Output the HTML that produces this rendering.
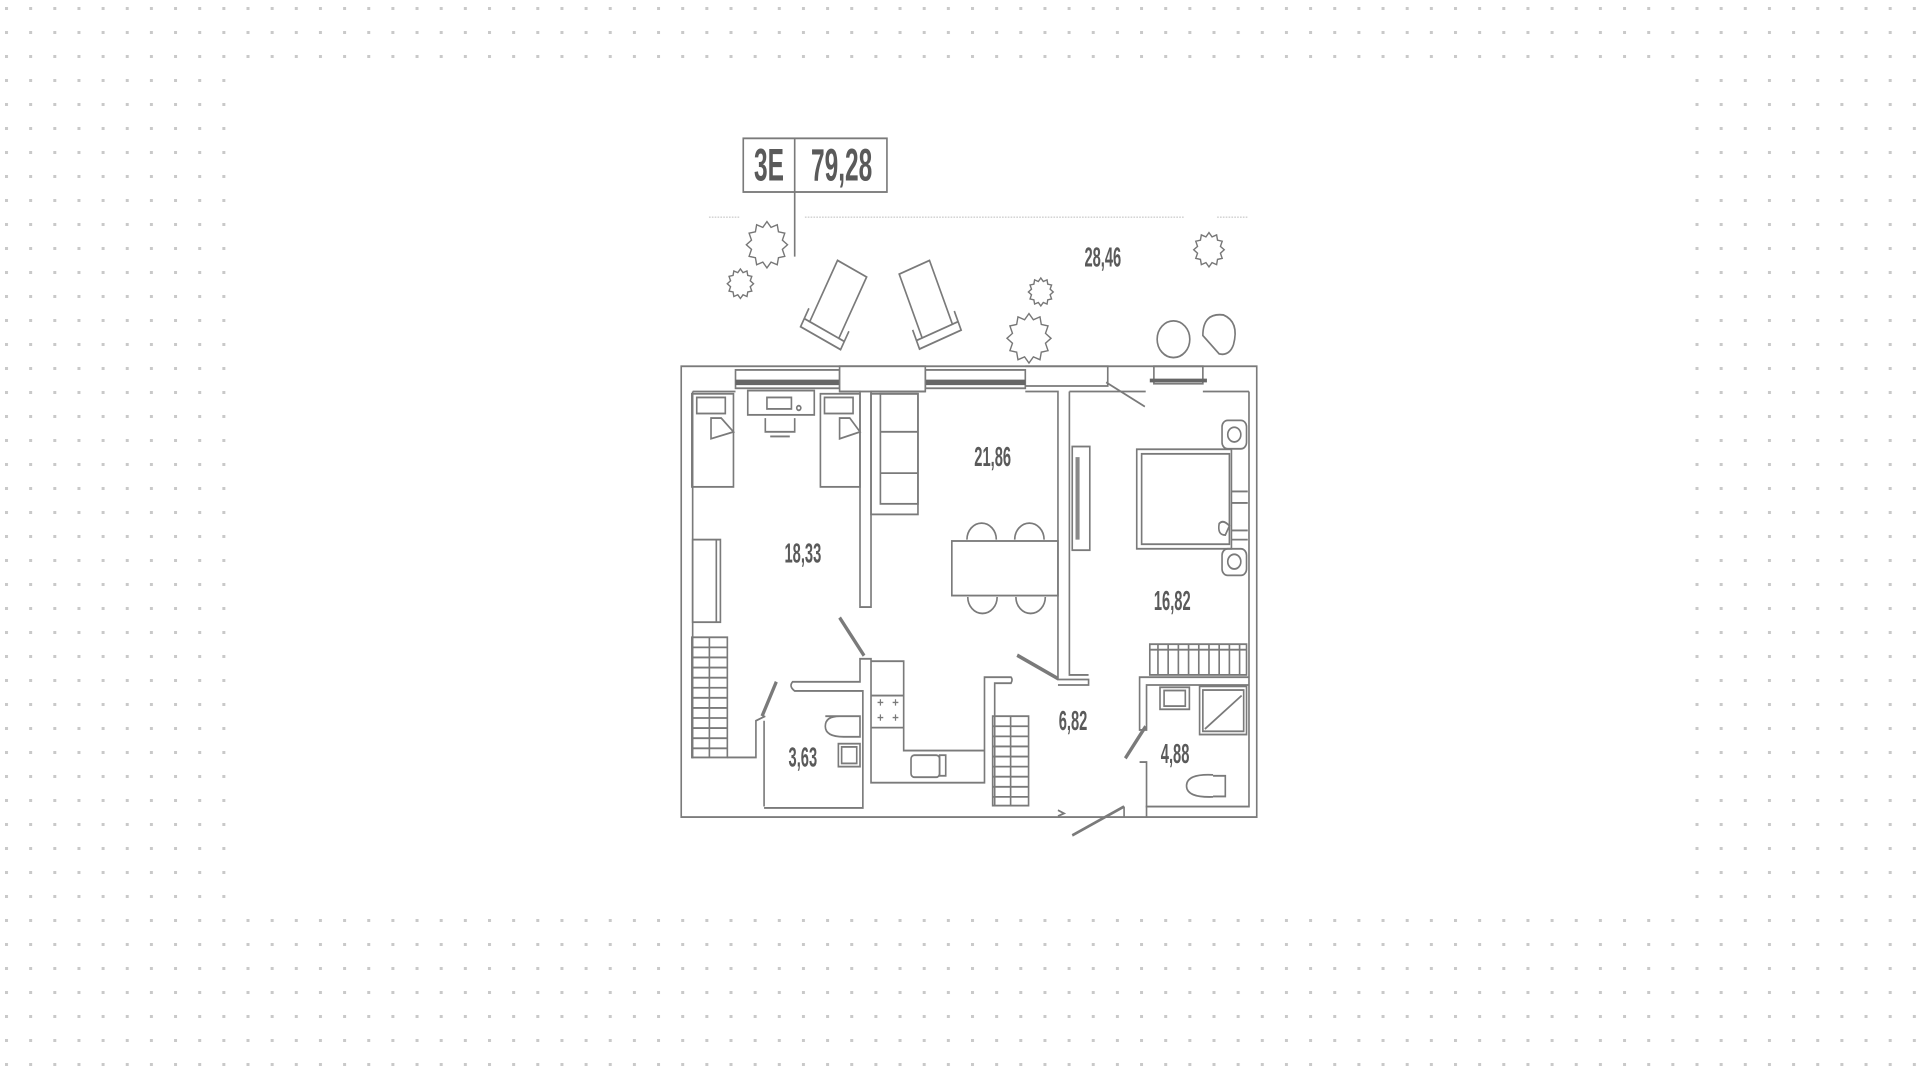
<!DOCTYPE html>
<html><head><meta charset="utf-8">
<style>
html,body{margin:0;padding:0;background:#fff;}
body{width:1920px;height:1078px;position:relative;overflow:hidden;}
svg{position:absolute;}
.t{font-family:"Liberation Sans",sans-serif;font-weight:bold;fill:#5a5a5a;}
</style></head>
<body>
<svg style="left:0;top:0" width="1920" height="1078">
<defs>
<pattern id="d" x="5" y="7" width="24.15" height="24" patternUnits="userSpaceOnUse">
<rect width="3" height="3" fill="#c9c9c9"/>
</pattern>
</defs>
<rect width="1920" height="1078" fill="url(#d)"/>
<rect x="234" y="68" width="1456" height="839" fill="#fff"/>
</svg>

<svg style="left:660px;top:120px" width="640" height="720" viewBox="0 0 1568 1570" preserveAspectRatio="none">
<defs>
<symbol id="st" viewBox="-1.15 -1.15 2.3 2.3">
<polygon vector-effect="non-scaling-stroke" fill="#fff" stroke="#777" stroke-width="1.4" points="1,0 .75,.2 .866,.5 .56,.56 .5,.866 .2,.75 0,1 -.2,.75 -.5,.866 -.56,.56 -.866,.5 -.75,.2 -1,0 -.75,-.2 -.866,-.5 -.56,-.56 -.5,-.866 -.2,-.75 0,-1 .2,-.75 .5,-.866 .56,-.56 .866,-.5 .75,-.2"/>
</symbol>
</defs>
<g fill="none" stroke="#7a7a7a" stroke-width="4">
<rect x="204" y="40" width="352" height="117"/>
<line x1="330" y1="40" x2="330" y2="298"/>
<g stroke="#cfcfcf" stroke-dasharray="4 3" stroke-width="3">
<line x1="120" y1="212" x2="195" y2="212"/><line x1="355" y1="212" x2="1285" y2="212"/><line x1="1365" y1="212" x2="1440" y2="212"/>
</g>
<use href="#st" x="204" y="214" width="116" height="116"/>
<use href="#st" x="160" y="320" width="74" height="74"/>
<use href="#st" x="898" y="340" width="70" height="70"/>
<use href="#st" x="842" y="414" width="124" height="124"/>
<use href="#st" x="1302" y="240" width="86" height="86"/>
<g transform="translate(432,400) rotate(27)">
<rect x="-40" y="-85" width="80" height="150"/><path d="M-55 40 L-55 85 L55 85 L55 40 M-40 65 L-55 65 M40 65 L55 65"/>
</g>
<g transform="translate(655,400) rotate(-22)">
<rect x="-40" y="-85" width="80" height="150"/><path d="M-55 40 L-55 85 L55 85 L55 40 M-40 65 L-55 65 M40 65 L55 65"/>
</g>
<circle cx="1258" cy="478" r="40"/>
<path d="M1330 470 Q1330 420 1380 425 Q1420 440 1405 490 Q1395 515 1370 510 Z"/>
<rect x="52" y="537" width="1410" height="983" fill="#fff"/>
<path d="M80 592 L80 1392 M1443 592 L1443 1497 L1190 1497 M255 1497 L255 1310"/>
<rect x="185" y="545" width="255" height="40"/>
<rect x="650" y="545" width="245" height="40"/>
<line x1="185" y1="572" x2="440" y2="572" stroke="#666" stroke-width="12"/>
<line x1="650" y1="572" x2="895" y2="572" stroke="#666" stroke-width="12"/>
<rect x="440" y="537" width="210" height="55" fill="#fff"/>
<path d="M895 537 L1097 537 L1097 580 L1087 580 M895 580 L1087 580"/>
<rect x="1210" y="537" width="120" height="38"/>
<line x1="1200" y1="568" x2="1340" y2="568" stroke="#666" stroke-width="8"/>
<line x1="1093" y1="572" x2="1188" y2="625"/>
<path d="M80 592 L185 592 M440 592 L490 592 L490 1062 L517 1062 L517 592 L650 592 M895 592 L975 592 L975 1220 L1050 1220 L1050 1232 L975 1232 M1003 592 L1190 592 M1003 592 L1003 1210 L1050 1210 M1330 592 L1443 592"/>
<rect x="78" y="597" width="102" height="203"/><rect x="90" y="605" width="70" height="35"/><path d="M125 650 L150 650 L180 680 L125 695 Z"/>
<rect x="393" y="597" width="97" height="203"/><rect x="403" y="605" width="70" height="35"/><path d="M440 650 L465 650 L490 680 L440 695 Z"/>
<rect x="215" y="590" width="163" height="53"/><rect x="262" y="605" width="60" height="25"/><circle cx="340" cy="628" r="5"/>
<path d="M258 650 L258 680 L330 680 L330 650 M270 690 L318 690"/>
<rect x="80" y="915" width="68" height="180"/><line x1="138" y1="915" x2="138" y2="1095"/>
<rect x="78" y="1128" width="87" height="262"/><line x1="121" y1="1128" x2="121" y2="1390"/>
<path d="M78 1150h87M78 1172h87M78 1194h87M78 1216h87M78 1238h87M78 1260h87M78 1282h87M78 1304h87M78 1326h87M78 1348h87M78 1370h87"/>
<path d="M165 1390 L235 1390 L235 1310 L258 1300"/>
<line x1="285" y1="1225" x2="250" y2="1300" stroke-width="8"/>
<rect x="517" y="597" width="115" height="263"/><rect x="540" y="597" width="92" height="240"/><path d="M540 680h92M540 770h92"/>
<rect x="715" y="918" width="260" height="119"/>
<path d="M752 915 A36 36 0 1 1 824 915 M869 915 A36 36 0 1 1 941 915 M754 1040 A36 36 0 1 0 826 1040 M872 1040 A36 36 0 1 0 944 1040"/>
<rect x="1010" y="712" width="43" height="226"/><line x1="1023" y1="735" x2="1023" y2="915" stroke="#888" stroke-width="10"/>
<line x1="440" y1="1085" x2="500" y2="1168" stroke-width="8"/>
<line x1="875" y1="1167" x2="975" y2="1218" stroke-width="8"/>
<rect x="1168" y="718" width="232" height="217"/><rect x="1180" y="728" width="215" height="197"/>
<rect x="1377" y="655" width="60" height="62" rx="14"/><circle cx="1407" cy="686" r="16"/>
<rect x="1377" y="935" width="60" height="58" rx="14"/><circle cx="1407" cy="963" r="16"/>
<path d="M1400 810h40M1400 835h40M1400 895h40M1400 915h40"/>
<path d="M1370 880 Q1380 870 1395 885 L1385 905 Q1365 905 1370 880Z"/>
<rect x="1200" y="1143" width="237" height="67"/><path d="M1200 1155h237M1220 1143v67M1245 1143v67M1270 1143v67M1295 1143v67M1320 1143v67M1345 1143v67M1370 1143v67M1395 1143v67M1420 1143v67"/>
<path d="M1443 1215 L1175 1215 L1175 1330 L1192 1330 L1192 1232 L1443 1232"/>
<path d="M1175 1400 L1192 1400 L1192 1520"/>
<line x1="1190" y1="1322" x2="1140" y2="1392" stroke-width="8"/>
<rect x="1225" y="1237" width="72" height="48"/><rect x="1235" y="1244" width="52" height="34"/>
<rect x="1322" y="1235" width="115" height="105"/><rect x="1330" y="1243" width="100" height="90"/><line x1="1335" y1="1328" x2="1425" y2="1255"/>
<path d="M1355 1430 L1385 1430 L1385 1475 L1355 1475 M1355 1428 Q1290 1425 1290 1452 Q1290 1478 1355 1476"/>
<line x1="1010" y1="1560" x2="1137" y2="1497" stroke-width="6"/>
<path d="M1137 1497 L1137 1520"/>
<path d="M255 1500 L497 1500 L497 1245 L330 1245 Q315 1235 325 1225 L490 1225 L490 1175 L517 1175 L517 1445 L795 1445 L795 1215 L860 1215 Q865 1220 860 1228 L820 1228 L820 1495"/>
<path d="M517 1180 L597 1180 L597 1375 L795 1375 M517 1255 L597 1255 M517 1325 L597 1325"/>
<path d="M533 1270h14M540 1263v14M570 1270h14M577 1263v14M533 1303h14M540 1296v14M570 1303h14M577 1296v14" stroke-width="3"/>
<rect x="615" y="1385" width="70" height="48" rx="8"/><rect x="685" y="1385" width="15" height="45"/>
<path d="M405 1300 L490 1300 L490 1345 L450 1345 Q405 1345 405 1322 Q405 1300 440 1300"/>
<rect x="437" y="1360" width="53" height="50"/><rect x="445" y="1367" width="37" height="36"/>
<rect x="815" y="1300" width="88" height="195"/><line x1="859" y1="1300" x2="859" y2="1495"/>
<path d="M815 1322h88M815 1344h88M815 1366h88M815 1388h88M815 1410h88M815 1432h88M815 1454h88M815 1476h88"/>
<path d="M975 1505 L990 1512 L975 1518"/>
</g>
<g class="t" font-size="60">
<text x="267" y="132" text-anchor="middle" transform="translate(267 0) scale(0.6 1) translate(-267 0)" font-size="100">3E</text>
<text x="445" y="132" text-anchor="middle" transform="translate(445 0) scale(0.6 1) translate(-445 0)" font-size="100">79,28</text>
<text x="1085" y="320" text-anchor="middle" transform="translate(1085 0) scale(0.6 1) translate(-1085 0)">28,46</text>
<text x="815" y="755" text-anchor="middle" transform="translate(815 0) scale(0.6 1) translate(-815 0)">21,86</text>
<text x="350" y="965" text-anchor="middle" transform="translate(350 0) scale(0.6 1) translate(-350 0)">18,33</text>
<text x="1255" y="1068" text-anchor="middle" transform="translate(1255 0) scale(0.6 1) translate(-1255 0)">16,82</text>
<text x="1012" y="1330" text-anchor="middle" transform="translate(1012 0) scale(0.6 1) translate(-1012 0)">6,82</text>
<text x="350" y="1410" text-anchor="middle" transform="translate(350 0) scale(0.6 1) translate(-350 0)">3,63</text>
<text x="1262" y="1402" text-anchor="middle" transform="translate(1262 0) scale(0.6 1) translate(-1262 0)">4,88</text>
</g>
</svg>
</body></html>
